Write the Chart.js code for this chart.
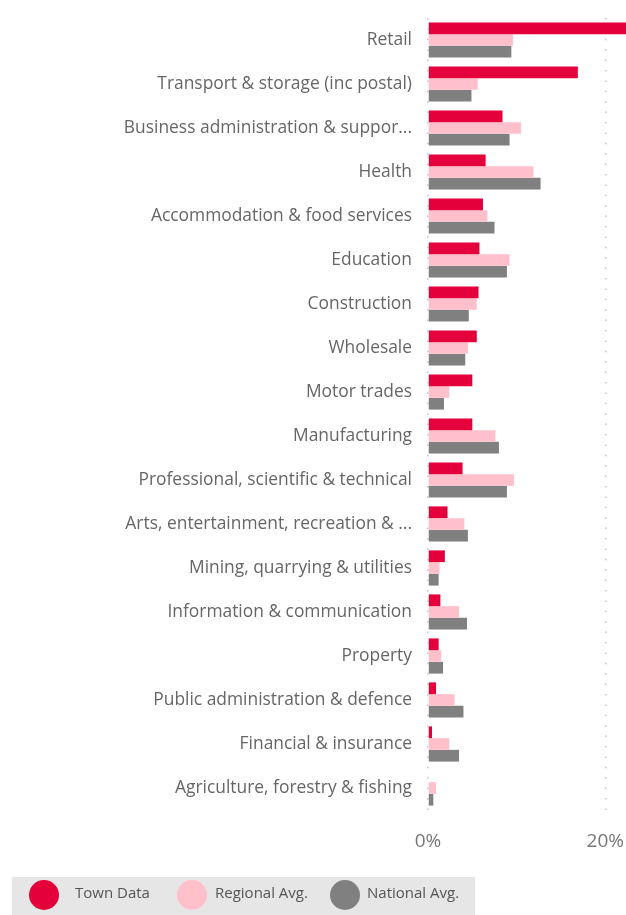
<!DOCTYPE html>
<html>
<head>
<meta charset="utf-8">
<script src="https://cdn.jsdelivr.net/npm/chart.js@4"></script>
<style>
  html, body { margin: 0; padding: 0; background: #fff; }
  #wrap { position: relative; width: 626px; height: 915px; }
</style>
</head>
<body>
<div id="wrap"><canvas id="chart"></canvas></div>
<script>
// Sectors, top to bottom (sorted by town share)
const sectors = [
  "Retail",
  "Transport & storage (inc postal)",
  "Business administration & suppor...",
  "Health",
  "Accommodation & food services",
  "Education",
  "Construction",
  "Wholesale",
  "Motor trades",
  "Manufacturing",
  "Professional, scientific & technical",
  "Arts, entertainment, recreation & ...",
  "Mining, quarrying & utilities",
  "Information & communication",
  "Property",
  "Public administration & defence",
  "Financial & insurance",
  "Agriculture, forestry & fishing",
];

// Share of employment, %
const townData = [23.0, 16.9, 8.4, 6.5, 6.2, 5.8, 5.7, 5.5, 5.0, 5.0, 3.9, 2.2, 1.9, 1.4, 1.2, 0.9, 0.45, 0];
const regionalAvg = [9.6, 5.6, 10.5, 11.9, 6.7, 9.2, 5.5, 4.5, 2.4, 7.6, 9.7, 4.1, 1.3, 3.5, 1.5, 3.0, 2.4, 0.9];
const nationalAvg = [9.4, 4.9, 9.2, 12.7, 7.5, 8.9, 4.6, 4.2, 1.8, 8.0, 8.9, 4.5, 1.2, 4.4, 1.7, 4.0, 3.5, 0.6];

const xTicks = [0, 20];

const RED = "#e4003b", PINK = "#ffc0cb", GREY = "#808080";
const FONT = "'Open Sans', 'Noto Sans', sans-serif";

// legend strip along the bottom: grey band, big dots, labels
const LEG = { band: [12, 877, 463, 38], cy: 895, r: 15, dotX: [44, 192, 345], textX: [75, 215, 367] };

const bottomLegend = {
  id: "bottomLegend",
  afterDraw(chart) {
    const ctx = chart.ctx;
    ctx.save();
    ctx.fillStyle = "#e6e6e6";
    ctx.fillRect(...LEG.band);
    ctx.font = "15px " + FONT;
    ctx.textBaseline = "middle";
    chart.data.datasets.forEach((d, i) => {
      ctx.fillStyle = d.backgroundColor;
      ctx.beginPath();
      ctx.arc(LEG.dotX[i], LEG.cy, LEG.r, 0, Math.PI * 2);
      ctx.fill();
      ctx.fillStyle = "#555";
      ctx.fillText(d.label, LEG.textX[i], LEG.cy - 1);
    });
    ctx.restore();
  },
};

const ds = (label, data, color) => ({
  label, data, backgroundColor: color, borderWidth: 0,
  categoryPercentage: 0.8, barPercentage: 1.0,
});

new Chart(document.getElementById("chart"), {
  type: "bar",
  data: {
    labels: sectors,
    datasets: [
      ds("Town Data", townData, RED),
      ds("Regional Avg.", regionalAvg, PINK),
      ds("National Avg.", nationalAvg, GREY),
    ],
  },
  options: {
    indexAxis: "y",
    responsive: true, maintainAspectRatio: false, animation: false,
    layout: { padding: { top: 18, left: 0, right: 0, bottom: 55 } },
    plugins: {
      tooltip: { enabled: false },
      legend: { display: false },
    },
    scales: {
      x: {
        min: 0, max: 22.33,
        grid: { color: "#c4c4c4", lineWidth: 1.5, drawTicks: false },
        border: { display: false, dash: [1.5, 8.9] },
        afterBuildTicks: (s) => { s.ticks = xTicks.map((v) => ({ value: v })); },
        ticks: {
          padding: 20, color: "#777",
          font: { family: FONT, size: 19 },
          callback: (v) => v + "%",
        },
        afterFit: (s) => { s.height = 50; s.paddingLeft = 0; s.paddingRight = 0; },
      },
      y: {
        border: { display: false },
        grid: { display: false, drawTicks: false },
        ticks: { padding: 16, color: "#666", font: { family: FONT, size: 17.4 } },
        afterFit: (s) => { s.width = 428; s.paddingTop = 0; s.paddingBottom = 0; },
      },
    },
  },
  plugins: [bottomLegend],
});
</script>
</body>
</html>
